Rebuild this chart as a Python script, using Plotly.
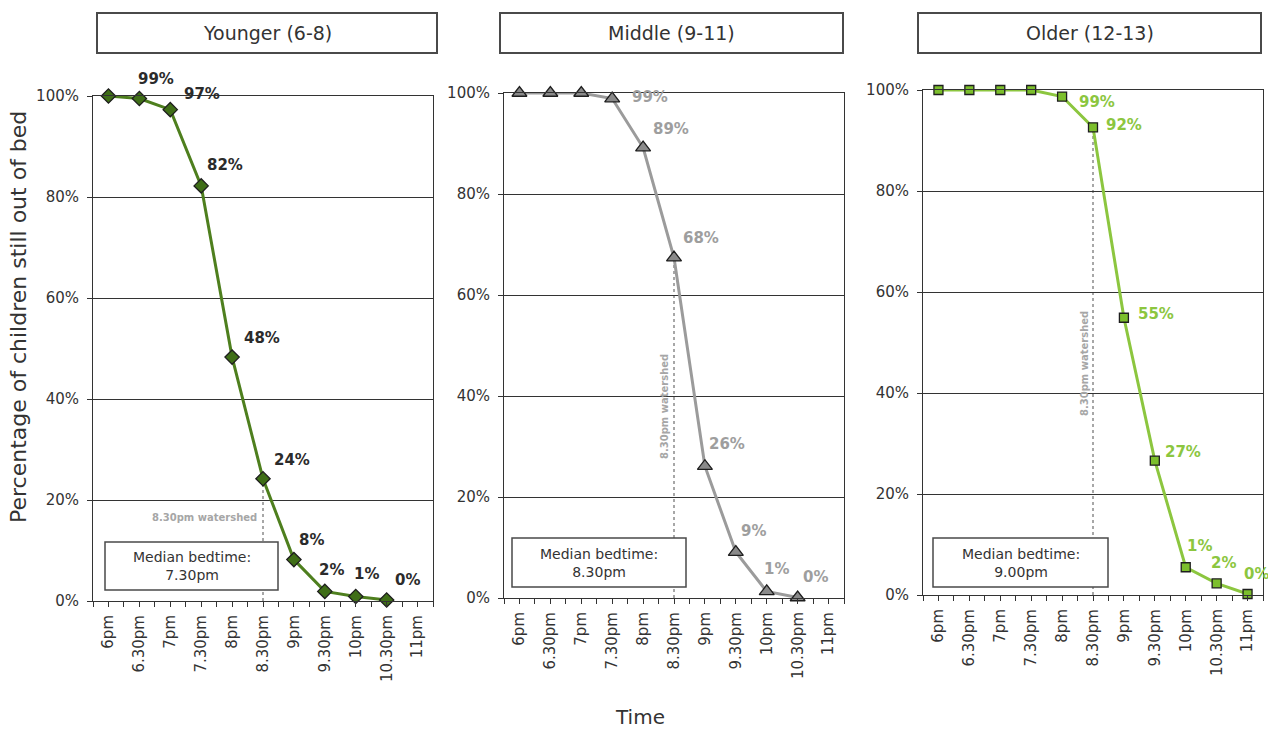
import plotly.graph_objects as go

# ---------------- data ----------------
times = ["6pm", "6.30pm", "7pm", "7.30pm", "8pm", "8.30pm", "9pm",
         "9.30pm", "10pm", "10.30pm", "11pm"]
y_ticks = [0, 20, 40, 60, 80, 100]

younger = [100, 99.5, 97.3, 82.2, 48.3, 24.2, 8.2, 1.9, 0.9, 0.2]
middle = [100, 100, 100, 98.9, 89.2, 67.4, 26.1, 9.1, 1.3, 0.1]
older = [100, 100, 100, 100, 98.7, 92.6, 54.9, 26.6, 5.5, 2.3, 0.2]

younger_labels = ["", "99%", "97%", "82%", "48%", "24%", "8%", "2%", "1%", "0%"]
middle_labels = ["", "", "", "99%", "89%", "68%", "26%", "9%", "1%", "0%"]
older_labels = ["", "", "", "", "99%", "92%", "55%", "27%", "1%", "2%", "0%"]

group_titles = ["Younger (6-8)", "Middle (9-11)", "Older (12-13)"]
median_texts = ["Median bedtime:<br>7.30pm", "Median bedtime:<br>8.30pm",
                "Median bedtime:<br>9.00pm"]
watershed_idx = 5  # 8.30pm

# ---------------- styling / layout helpers ----------------
W, H = 1268, 729
FONT = "DejaVu Sans"
DARK = "#333333"


def fx(px):
    return px / W


def fy(py):
    return 1 - py / H


# label offsets (pixels: dx right, dy down)
younger_off = [(0, 0), (17, -20), (32, -16), (24, -21), (30, -19), (29, -19),
               (18, -20), (7, -21), (11, -22), (21, -20)]
middle_off = [(0, 0), (0, 0), (0, 0), (38, -2), (28, -19), (27, -20), (22, -22),
              (18, -21), (10, -22), (18, -21)]
older_off = [(0, 0), (0, 0), (0, 0), (0, 0), (35, 5), (31, -2), (32, -4),
             (28, -9), (14, -21), (7, -20), (9, -20)]

panels = [
    dict(vals=younger, labels=younger_labels, off=younger_off,
         line="#4E7F1E", mfill="#3F6E17", symbol="diamond", msize=11,
         lcol="#2B2B2B", box=(93, 433, 96, 601),
         title_box=(97, 437, 13, 53), med_box=(105, 278, 542, 590),
         ws=dict(angle=0, xshift=-4, ypix=517, anchor="right")),
    dict(vals=middle, labels=middle_labels, off=middle_off,
         line="#9B9B9B", mfill="#8A8A8A", symbol="triangle-up", msize=13,
         lcol="#9E9E9E", box=(504, 844, 93, 598),
         title_box=(500, 843, 13, 53), med_box=(512, 686, 538, 587),
         ws=dict(angle=-90, xshift=-10, ypix=407, anchor="center")),
    dict(vals=older, labels=older_labels, off=older_off,
         line="#8CC63F", mfill="#7CBF2C", symbol="square", msize=9,
         lcol="#8CC63F", box=(923, 1263, 90, 595),
         title_box=(918, 1261, 13, 53), med_box=(933, 1108, 538, 587),
         ws=dict(angle=-90, xshift=-9, ypix=364, anchor="center")),
]

fig = go.Figure()
shapes = []
annotations = []

for i, p in enumerate(panels):
    n = i + 1
    xa = "x" if n == 1 else f"x{n}"
    ya = "y" if n == 1 else f"y{n}"
    xk = "xaxis" if n == 1 else f"xaxis{n}"
    yk = "yaxis" if n == 1 else f"yaxis{n}"
    x0, x1, ytop, ybot = p["box"]

    xs = list(range(len(p["vals"])))
    fig.add_trace(go.Scatter(
        x=xs, y=p["vals"], mode="lines+markers", xaxis=xa, yaxis=ya,
        line=dict(color=p["line"], width=3),
        marker=dict(symbol=p["symbol"], size=p["msize"], color=p["mfill"],
                    line=dict(color="#1E1E1E", width=1.3)),
        cliponaxis=False, showlegend=False, hoverinfo="skip"))

    fig.update_layout({
        xk: dict(domain=[fx(x0), fx(x1)], anchor=ya, range=[-0.5, 10.5],
                 tickmode="array", tickvals=list(range(len(times))),
                 ticktext=times, tickangle=-90, ticks="outside", ticklen=5,
                 tickcolor=DARK, showgrid=False, zeroline=False,
                 showline=True, linecolor=DARK, linewidth=1, mirror=True,
                 automargin=False, ticklabelstandoff=2,
                 tickfont=dict(family=FONT, size=15, color=DARK),
                 minor=dict(tickvals=[k - 0.5 for k in range(len(times) + 1)],
                            ticks="outside", ticklen=5, tickcolor=DARK,
                            showgrid=False),
                 fixedrange=True),
        yk: dict(domain=[fy(ybot), fy(ytop)], anchor=xa, range=[0, 100],
                 tickmode="array", tickvals=y_ticks,
                 ticktext=[f"{v}%" for v in y_ticks], ticks="outside",
                 ticklen=5, tickcolor=DARK, showgrid=True, gridcolor=DARK,
                 gridwidth=1, zeroline=False, showline=True, linecolor=DARK,
                 linewidth=1, mirror=True, automargin=False,
                 ticklabelstandoff=5,
                 tickfont=dict(family=FONT, size=15, color=DARK),
                 fixedrange=True),
    })

    # data labels
    for j, (v, lab) in enumerate(zip(p["vals"], p["labels"])):
        if not lab:
            continue
        dx, dy = p["off"][j]
        annotations.append(dict(
            x=j, y=v, xref=xa, yref=ya, text=f"<b>{lab}</b>", showarrow=False,
            xshift=dx, yshift=-dy, xanchor="center", yanchor="middle",
            font=dict(family=FONT, size=15, color=p["lcol"])))

    # watershed dotted line
    shapes.append(dict(type="line", xref=xa, yref=ya, x0=watershed_idx,
                       x1=watershed_idx, y0=0, y1=p["vals"][watershed_idx],
                       line=dict(color="#8A8A8A", width=1.5, dash="dot"),
                       layer="below"))
    ws = p["ws"]
    annotations.append(dict(
        x=watershed_idx, xref=xa, y=fy(ws["ypix"]), yref="paper",
        text="<b>8.30pm watershed</b>", showarrow=False, textangle=ws["angle"],
        xanchor=ws["anchor"] if ws["angle"] == 0 else "center",
        yanchor="middle", xshift=ws["xshift"],
        font=dict(family=FONT, size=10, color="#A6A6A6")))

    # title box
    tx0, tx1, ty0, ty1 = p["title_box"]
    shapes.append(dict(type="rect", xref="paper", yref="paper",
                       x0=fx(tx0), x1=fx(tx1), y0=fy(ty1), y1=fy(ty0),
                       line=dict(color="#4A4A4A", width=2),
                       fillcolor="white", layer="above"))
    annotations.append(dict(x=fx((tx0 + tx1) / 2), y=fy((ty0 + ty1) / 2),
                            xref="paper", yref="paper", text=group_titles[i],
                            showarrow=False, xanchor="center", yanchor="middle",
                            font=dict(family=FONT, size=19, color=DARK)))

    # median box
    mx0, mx1, my0, my1 = p["med_box"]
    shapes.append(dict(type="rect", xref="paper", yref="paper",
                       x0=fx(mx0), x1=fx(mx1), y0=fy(my1), y1=fy(my0),
                       line=dict(color="#4A4A4A", width=1.5),
                       fillcolor="white", layer="above"))
    annotations.append(dict(x=fx((mx0 + mx1) / 2), y=fy((my0 + my1) / 2),
                            xref="paper", yref="paper", text=median_texts[i],
                            showarrow=False, xanchor="center", yanchor="middle",
                            align="center",
                            font=dict(family=FONT, size=14, color=DARK)))

# axis titles
annotations.append(dict(x=fx(18), y=fy(317), xref="paper", yref="paper",
                        text="Percentage of children still out of bed",
                        textangle=-90, showarrow=False, xanchor="center",
                        yanchor="middle",
                        font=dict(family=FONT, size=22, color=DARK)))
annotations.append(dict(x=fx(640), y=fy(717), xref="paper", yref="paper",
                        text="Time", showarrow=False, xanchor="center",
                        yanchor="middle",
                        font=dict(family=FONT, size=20, color=DARK)))

fig.update_layout(
    width=W, height=H,
    margin=dict(l=0, r=0, t=0, b=0, pad=0, autoexpand=False),
    paper_bgcolor="white", plot_bgcolor="white",
    shapes=shapes, annotations=annotations, showlegend=False,
    font=dict(family=FONT, color=DARK),
)

fig.write_html("out.html", config={"displayModeBar": False})
